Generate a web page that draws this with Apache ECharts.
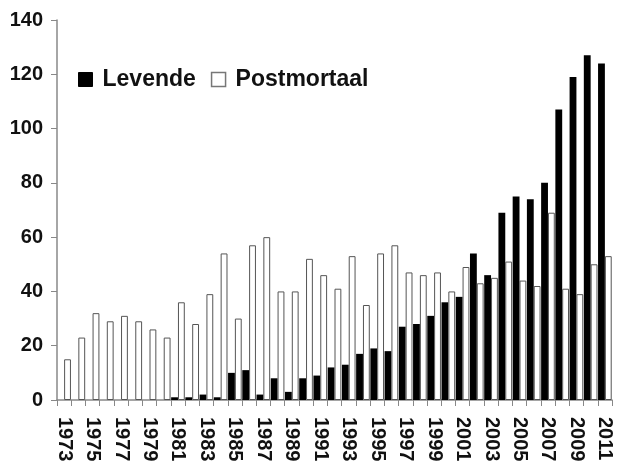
<!DOCTYPE html>
<html>
<head>
<meta charset="utf-8">
<script src="https://cdn.jsdelivr.net/npm/echarts@6/dist/echarts.min.js"></script>
<style>
  html, body { margin: 0; padding: 0; background: #fff; }
  #chart { width: 618px; height: 465px; }
</style>
</head>
<body>
<div id="chart"></div>
<script>
var years = [];
for (var y = 1973; y <= 2011; y++) years.push(String(y));

// Levende (living donors)
var levende = [0, 0, 0, 0, 0, 0, 0, 0, 1, 1, 2, 1, 10, 11, 2, 8, 3, 8, 9, 12,
  13, 17, 19, 18, 27, 28, 31, 36, 38, 54, 46, 69, 75, 74, 80, 107, 119, 127, 124];
// Postmortaal (deceased donors)
var postmortaal = [15, 23, 32, 29, 31, 29, 26, 23, 36, 28, 39, 54, 30, 57, 60, 40, 40, 52, 46, 41,
  53, 35, 54, 57, 47, 46, 47, 40, 49, 43, 45, 51, 44, 42, 69, 41, 39, 50, 53];

var yTicks = { min: 0, max: 140, interval: 20 };

var chart = echarts.init(document.getElementById('chart'));
var font = '"Liberation Sans", Arial, sans-serif';

chart.setOption({
  animation: false,
  textStyle: { fontFamily: font },
  legend: {
    left: 73,
    top: 63,
    itemWidth: 14,
    itemHeight: 14,
    itemGap: 15,
    icon: 'rect',
    textStyle: {
      fontFamily: font,
      fontSize: 23,
      fontWeight: 'bold',
      color: '#111',
      padding: [0, 0, 0, 5]
    },
    data: [
      { name: 'Levende', itemStyle: { color: '#000', borderColor: '#000', borderWidth: 1 } },
      { name: 'Postmortaal', itemStyle: { color: '#fff', borderColor: '#777', borderWidth: 1.5 } }
    ]
  },
  grid: { left: 57, right: 6, top: 20, bottom: 65 },
  xAxis: {
    type: 'category',
    data: years,
    axisLine: { lineStyle: { color: '#888', width: 1.5 } },
    axisTick: { show: true, interval: 0, length: 6, lineStyle: { color: '#888' } },
    axisLabel: {
      interval: 1,
      rotate: -90,
      margin: 17,
      fontFamily: font,
      fontSize: 20,
      fontWeight: 'bold',
      color: '#111'
    }
  },
  yAxis: {
    type: 'value',
    min: yTicks.min,
    max: yTicks.max,
    interval: yTicks.interval,
    splitLine: { show: false },
    axisLine: { show: true, lineStyle: { color: '#888', width: 1.5 } },
    axisTick: { show: true, length: 6, lineStyle: { color: '#888' } },
    axisLabel: {
      margin: 14,
      fontFamily: font,
      fontSize: 20,
      fontWeight: 'bold',
      color: '#111'
    }
  },
  series: [
    {
      name: 'Levende',
      type: 'bar',
      data: levende,
      barGap: '0%',
      barCategoryGap: '4%',
      itemStyle: { color: '#000', borderWidth: 0 }
    },
    {
      name: 'Postmortaal',
      type: 'bar',
      data: postmortaal,
      itemStyle: { color: '#fff', borderColor: '#555', borderWidth: 1 }
    }
  ]
});
</script>
</body>
</html>
